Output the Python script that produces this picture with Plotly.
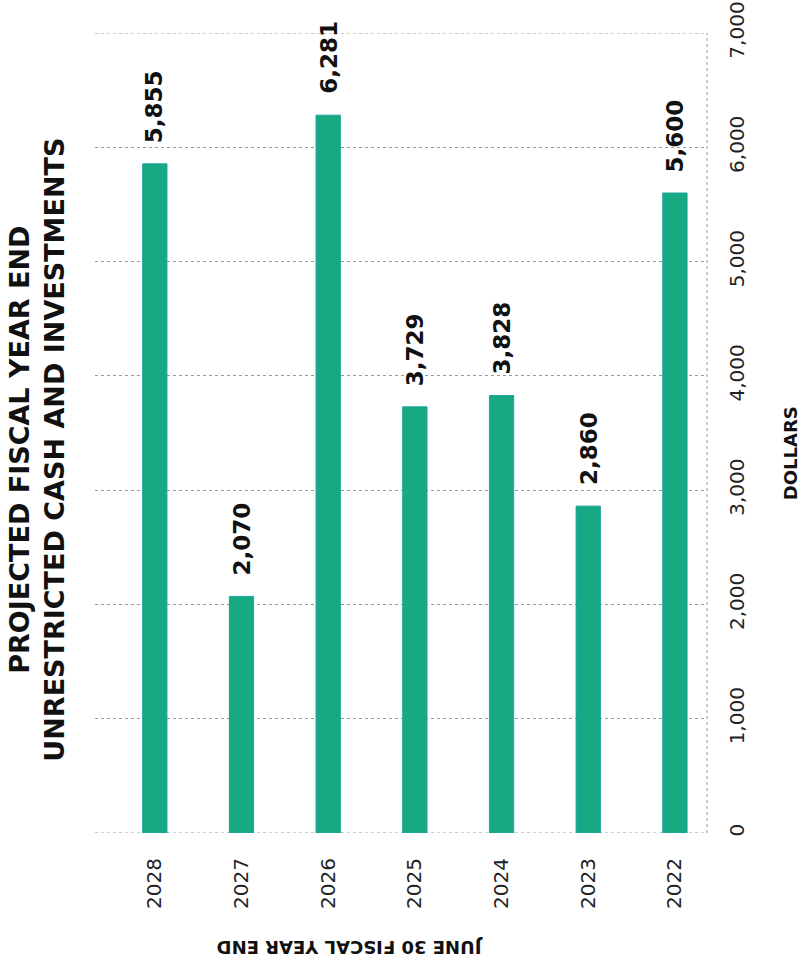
import plotly.graph_objects as go

# Fiscal years (left to right) and projected unrestricted cash & investments
years = ["2028", "2027", "2026", "2025", "2024", "2023", "2022"]
amounts = [5855, 2070, 6281, 3729, 3828, 2860, 5600]
value_ticks = [0, 1000, 2000, 3000, 4000, 5000, 6000, 7000]

BAR_COLOR = "#16a982"
BAR_EDGE = "#1aa3a3"
FONT = "DejaVu Sans"

fig = go.Figure()
fig.add_trace(go.Bar(
    x=years,
    y=amounts,
    width=0.28,
    marker=dict(color=BAR_COLOR, line=dict(color=BAR_EDGE, width=1)),
    hoverinfo="skip",
))

# Value labels above each bar, rotated to read bottom-to-top
# (category positions are given by index so the year strings are not read as numbers)
for i, v in enumerate(amounts):
    fig.add_annotation(
        x=i, y=v, xref="x", yref="y",
        text=f"{v:,}", showarrow=False, textangle=-90,
        xanchor="center", yanchor="bottom", yshift=19,
        font=dict(family=FONT, size=23, color="#111", weight="bold"),
    )

# Chart title on the left side
fig.add_annotation(
    x=-0.095, y=0.479, xref="paper", yref="paper",
    text="PROJECTED FISCAL YEAR END<br>UNRESTRICTED CASH AND INVESTMENTS",
    showarrow=False, textangle=-90, align="center",
    xanchor="center", yanchor="middle",
    font=dict(family=FONT, size=27, color="#111", weight="bold"),
)

# Value axis title
fig.add_annotation(
    x=1.136, y=0.475, xref="paper", yref="paper",
    text="DOLLARS", showarrow=False, textangle=-90,
    xanchor="center", yanchor="middle",
    font=dict(family=FONT, size=18, color="#111", weight="bold"),
)

# Category axis title (inverted)
fig.add_annotation(
    x=0.417, y=-0.144, xref="paper", yref="paper",
    text="JUNE 30 FISCAL YEAR END", showarrow=False, textangle=180,
    xanchor="center", yanchor="middle",
    font=dict(family=FONT, size=18, color="#111", weight="bold"),
)

# Dotted frame line along the value axis
fig.add_shape(
    type="line", xref="paper", yref="paper", x0=1, x1=1, y0=0, y1=1,
    line=dict(color="#999", width=1, dash="dot"),
)
# Dotted grid lines at the ends of the value range
for yv in (value_ticks[0], value_ticks[-1]):
    fig.add_shape(
        type="line", xref="paper", yref="y", x0=0, x1=1, y0=yv, y1=yv,
        line=dict(color="#999", width=1, dash="dot"), layer="below",
    )

fig.update_layout(
    width=801, height=972,
    margin=dict(l=95, r=94, t=33, b=139),
    paper_bgcolor="white", plot_bgcolor="white",
    showlegend=False,
    font=dict(family=FONT, color="#222"),
    bargap=0.7,
)
fig.update_xaxes(
    type="category", categoryorder="array", categoryarray=years,
    range=[-0.69, 6.37], automargin=False,
    tickangle=-90, tickfont=dict(size=20, color="#222"),
    ticks="", ticklabelstandoff=20,
    showgrid=False, showline=False, zeroline=False,
)
fig.update_yaxes(
    side="right", range=[0, 7000], tickvals=value_ticks, automargin=False,
    tickformat=",d", tickangle=-90,
    tickfont=dict(size=20, color="#222"),
    ticks="", ticklabelstandoff=16,
    showgrid=True, gridcolor="#999", griddash="dot", gridwidth=1,
    zeroline=False, showline=False,
)

fig.write_html("out.html")
